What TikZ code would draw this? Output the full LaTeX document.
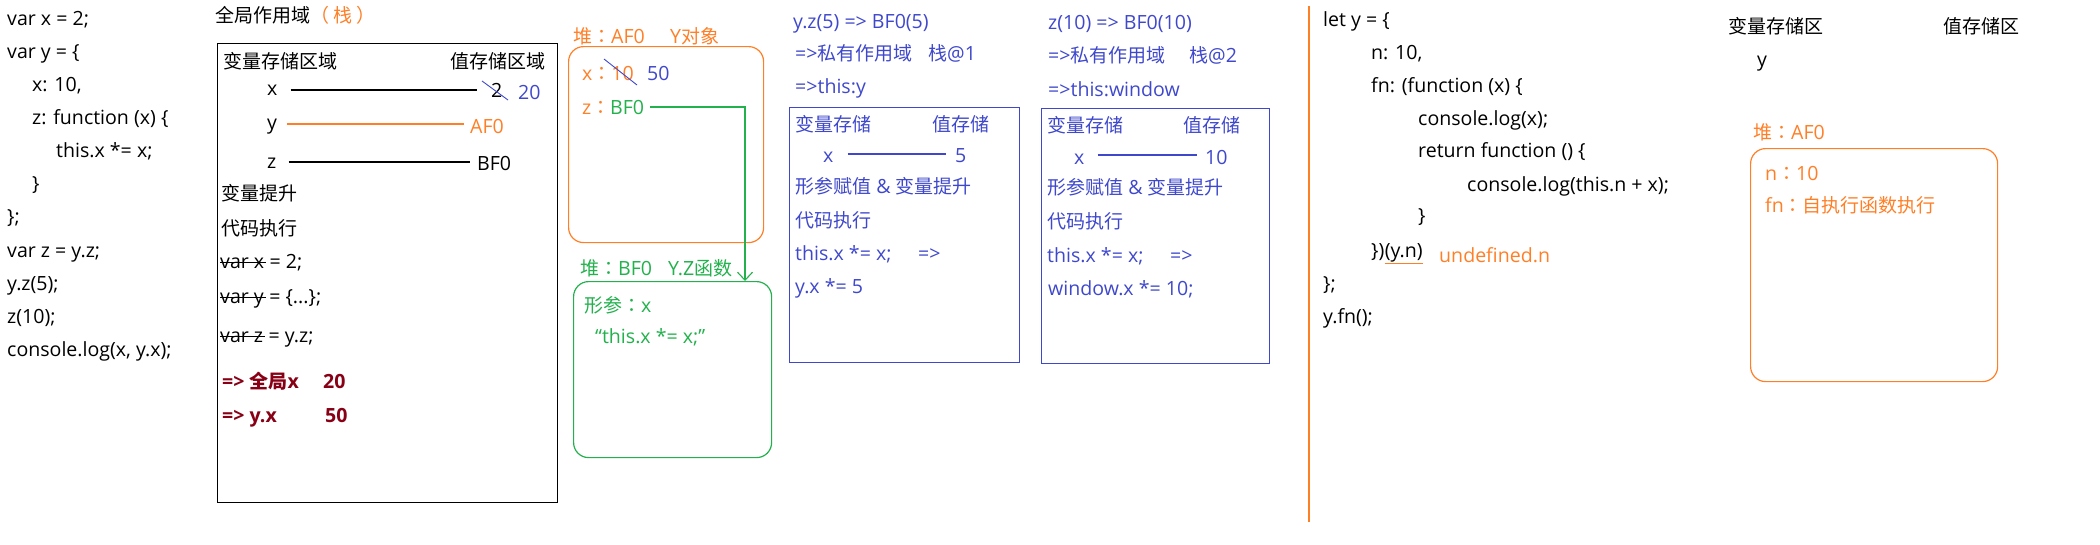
\documentclass[tikz,border=0pt]{standalone}
\usepackage{fontspec}
\setmainfont{Open Sans}[Scale=1.03]
\newfontfamily\cjk{Noto Sans CJK SC}
\newfontfamily\cjktc{Noto Sans CJK TC}
\newcommand\zh[1]{{\cjk #1}}
\newcommand\fwc{{\cjktc ：}}
\newcommand\fs{\fontsize{19}{23}\selectfont}
\usetikzlibrary{arrows.meta,calc}
\definecolor{orng}{RGB}{255,127,39}
\definecolor{blu}{RGB}{63,72,204}
\definecolor{grn}{RGB}{34,177,76}
\definecolor{dred}{RGB}{136,0,21}
\begin{document}
\begin{tikzpicture}[x=1pt,y=-1pt,
  t/.style={anchor=base west,inner sep=0pt,font=\fs},
  te/.style={anchor=base east,inner sep=0pt,font=\fs},
  ln/.style={line width=1.1pt},
  box/.style={draw,line width=1.2pt,anchor=north west,inner sep=0pt},
  strike/.style={line width=0.9pt}]
\useasboundingbox (0,0) rectangle (2100,544);

% ---------- left code ----------
\node[t] (c1) at (7,25) {var x = 2;};
\node[t] (c2) at (7,58) {var y = \{};
\node[t] (c3) at (32,91) {x: 10,};
\node[t] (c4) at (32,124) {z: function (x) \{};
\node[t] (c5) at (56,157) {this.x *= x;};
\node[t] (c6) at (32,190) {\}};
\node[t] (c7) at (7,223) {\};};
\node[t] (c8) at (7,257) {var z = y.z;};
\node[t] (c9) at (7,290) {y.z(5);};
\node[t] (c10) at (7,323) {z(10);};
\node[t] (c11) at (7,356) {console.log(x, y.x);};

% ---------- global scope ----------
\node[t] (gt) at (215,22) {\zh{全局作用域}\textcolor{orng}{{\cjktc （ 栈 ）}}};
\node[box,minimum width=340,minimum height=459] (gbox) at (217,43) {};
\node[t] (g1) at (223,68) {\zh{变量存储区域}};
\node[te] (g2) at (546,68) {\zh{值存储区域}};
\node[t] (gx) at (267,95) {x};
\node[t] (g2v) at (491,97) {2};
\node[t,text=blu] (g20) at (518,99) {20};
\draw[ln] ($(gx.base east)+(13,-5)$) -- ($(gx.base east -| g2v.west)+(-14,-5)$);
\draw[blu,strike] ($(g2v.base west)+(-9,-16)$) -- ($(g2v.base west)+(17,3)$);
\node[t] (gy) at (267,129) {y};
\node[t,text=orng] (gaf) at (470,133) {AF0};
\draw[ln,orng] ($(gy.base east)+(10,-5)$) -- ($(gy.base east -| gaf.west)+(-6,-5)$);
\node[t] (gz) at (267,168) {z};
\node[t] (gbf) at (477,170) {BF0};
\draw[ln] ($(gz.base east)+(12,-6)$) -- ($(gz.base east -| gbf.west)+(-7,-6)$);
\node[t] (g3) at (221,200) {\zh{变量提升}};
\node[t] (g4) at (221,235) {\zh{代码执行}};
\node[t] (g5a) at (220,268) {var x};
\node[t,anchor=base west] (g5b) at (g5a.base east) {\ = 2;};
\draw[strike] ($(g5a.base west)+(0,-6)$) -- ($(g5a.base east)+(2,-6)$);
\node[t] (g6a) at (220,303) {var y};
\node[t,anchor=base west] (g6b) at (g6a.base east) {\ = \{...\};};
\draw[strike] ($(g6a.base west)+(0,-6)$) -- ($(g6a.base east)+(2,-6)$);
\node[t] (g7a) at (220,342) {var z};
\node[t,anchor=base west] (g7b) at (g7a.base east) {\ = y.z;};
\draw[strike] ($(g7a.base west)+(0,-6)$) -- ($(g7a.base east)+(2,-6)$);
\node[t,text=dred,font=\fs\bfseries] (g8) at (222,388) {=> \zh{全局}x};
\node[t,text=dred,font=\fs\bfseries] (g8v) at (323,388) {20};
\node[t,text=dred,font=\fs\bfseries] (g9) at (222,422) {=> y.x};
\node[t,text=dred,font=\fs\bfseries] (g9v) at (325,422) {50};

% ---------- heap AF0 ----------
\node[box,draw=orng,rounded corners=15pt,minimum width=195,minimum height=196] (ha) at (568,46) {};
\node[t,text=orng] (hat) at (573,43) {\zh{堆}\fwc AF0};
\node[t,text=orng] (hat2) at (670,43) {Y\zh{对象}};
\node[t,text=orng] (hx) at (582,80) {x\fwc 10};
\node[t,text=blu] (h50) at (647,80) {50};
\draw[blu,strike] ($(hx.base west)+(22,-21)$) -- ($(hx.base west)+(55,5)$);
\node[t,text=orng] (hz) at (582,114) {z\fwc};
\node[t,text=grn] (hbf) at (610,114) {BF0};

% ---------- heap BF0 ----------
\node[box,draw=grn,rounded corners=15pt,minimum width=198,minimum height=176] (hb) at (573,281) {};
\node[t,text=grn] (hbt) at (580,275) {\zh{堆}\fwc BF0};
\node[t,text=grn] (hbt2) at (668,275) {Y.Z\zh{函数}};
\node[t,text=grn] (hb1) at (584,312) {\zh{形参}\fwc x};
\node[t,text=grn] (hb2) at (595,343) {“this.x *= x;”};
\coordinate (gc) at (745,107);
\draw[ln,grn,-{Straight Barb[length=8pt,width=15pt]}] ($(hbf.base east)+(6,-7)$) -- (gc) -- (gc |- hb.north);

% ---------- blue box 1 ----------
\begin{scope}[every node/.append style={text=blu}]
\node[t] (b1a) at (793,28) {y.z(5) => BF0(5)};
\node[t] (b1b) at (795,60) {=>\zh{私有作用域}};
\node[t] (b1b2) at (928,60) {\zh{栈}@1};
\node[t] (b1c) at (795,93) {=>this:y};
\node[box,draw=blu,minimum width=230,minimum height=255] (bx1) at (789,107) {};
\node[t] (b1d) at (795,131) {\zh{变量存储}};
\node[t] (b1e) at (932,131) {\zh{值存储}};
\node[t] (b1x) at (823,162) {x};
\node[t] (b1v) at (955,162) {5};
\draw[ln,blu] ($(b1x.base east)+(14,-8)$) -- ($(b1x.base east -| b1v.west)+(-9,-8)$);
\node[t] (b1f) at (795,193) {\zh{形参赋值} \& \zh{变量提升}};
\node[t] (b1g) at (795,227) {\zh{代码执行}};
\node[t] (b1h) at (795,260) {this.x *= x;};
\node[t] (b1i) at (918,260) {=>};
\node[t] (b1j) at (795,293) {y.x *= 5};

% ---------- blue box 2 ----------
\node[t] (b2a) at (1048,29) {z(10) => BF0(10)};
\node[t] (b2b) at (1048,62) {=>\zh{私有作用域}};
\node[t] (b2b2) at (1189,62) {\zh{栈}@2};
\node[t] (b2c) at (1048,96) {=>this:window};
\node[box,draw=blu,minimum width=228,minimum height=255] (bx2) at (1041,108) {};
\node[t] (b2d) at (1047,132) {\zh{变量存储}};
\node[t] (b2e) at (1183,132) {\zh{值存储}};
\node[t] (b2x) at (1074,164) {x};
\node[t] (b2v) at (1205,164) {10};
\draw[ln,blu] ($(b2x.base east)+(13,-9)$) -- ($(b2x.base east -| b2v.west)+(-8,-9)$);
\node[t] (b2f) at (1047,194) {\zh{形参赋值} \& \zh{变量提升}};
\node[t] (b2g) at (1047,228) {\zh{代码执行}};
\node[t] (b2h) at (1047,262) {this.x *= x;};
\node[t] (b2i) at (1170,262) {=>};
\node[t] (b2j) at (1048,295) {window.x *= 10;};
\end{scope}

% ---------- divider ----------
\coordinate (dv1) at (1309,6);
\coordinate (dv2) at (1309,522);
\draw[orng,line width=1.2pt] (dv1) -- (dv2);

% ---------- right code ----------
\node[t] (r1) at (1323,26) {let y = \{};
\node[t] (r2) at (1371,59) {n: 10,};
\node[t] (r3) at (1371,92) {fn: (function (x) \{};
\node[t] (r4) at (1418,125) {console.log(x);};
\node[t] (r5) at (1418,157) {return function () \{};
\node[t] (r6) at (1467,191) {console.log(this.n + x);};
\node[t] (r7) at (1418,222) {\}};
\node[t] (r8a) at (1371,257) {\})};
\node[t,anchor=base west] (r8b) at (r8a.base east) {(y.n)};
\draw[orng,line width=1pt] ($(r8b.base west)+(0,6)$) -- ($(r8b.base east)+(0,6)$);
\node[t,text=orng] (r9) at (1439,262) {undefined.n};
\node[t] (r10) at (1323,290) {\};};
\node[t] (r11) at (1323,323) {y.fn();};

% ---------- right memory ----------
\node[t] (m1) at (1728,33) {\zh{变量存储区}};
\node[t] (m2) at (1943,33) {\zh{值存储区}};
\node[t] (my) at (1757,66) {y};
\node[t,text=orng] (mh) at (1753,139) {\zh{堆}\fwc AF0};
\node[box,draw=orng,rounded corners=15pt,minimum width=247,minimum height=233] (hr) at (1750,148) {};
\node[t,text=orng] (mn) at (1765,180) {n\fwc 10};
\node[t,text=orng] (mf) at (1765,212) {fn\fwc\zh{自执行函数执行}};
\end{tikzpicture}
\end{document}
